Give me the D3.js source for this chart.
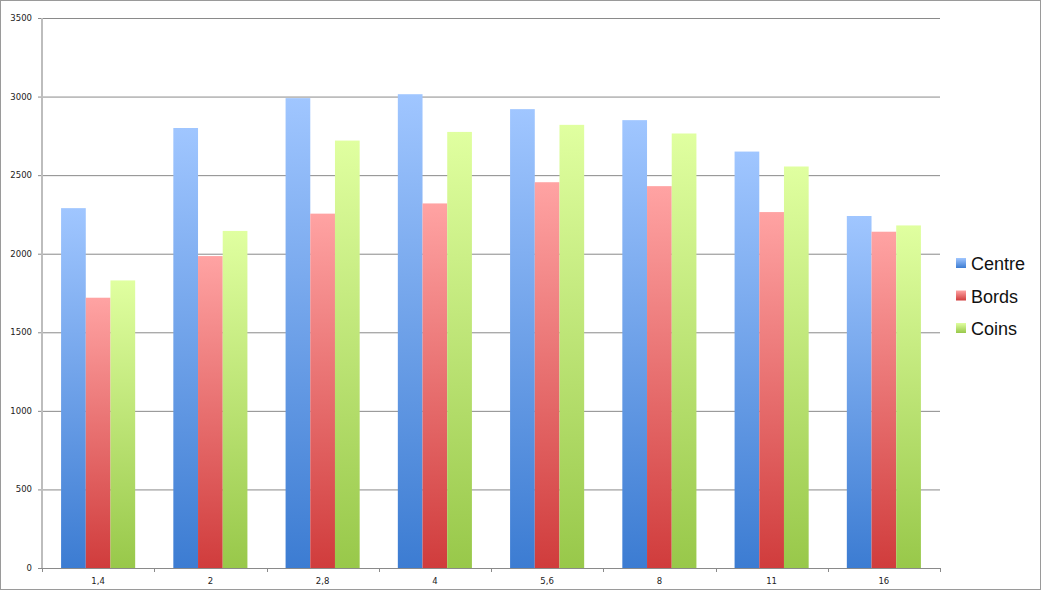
<!DOCTYPE html>
<html><head><meta charset="utf-8">
<script src="https://cdn.jsdelivr.net/npm/d3@7"></script>
<style>body{margin:0;background:#fff}svg{display:block}</style>
</head><body>
<svg id="c" width="1041" height="590"></svg>
<script>
const categories = ["1,4","2","2,8","4","5,6","8","11","16"];
const seriesNames = ["Centre","Bords","Coins"];
const centre = [2290,2800,2990,3015,2920,2850,2650,2240];
const bords  = [1720,1985,2255,2320,2455,2430,2265,2140];
const coins  = [1830,2145,2720,2775,2820,2765,2555,2180];
const yTicks = [0,500,1000,1500,2000,2500,3000,3500];

const values = [centre,bords,coins];
const gradients = [["#a0c6ff","#3c7cd2"],["#ffa3a3","#d03c3c"],["#e0ffa0","#98c84a"]];
const svg = d3.select("#c");
const W=1041,H=590;
const m={left:42,right:101,top:18,bottom:22};
svg.append("rect").attr("x",0.5).attr("y",0.5).attr("width",W-1).attr("height",H-1).attr("fill","#fff").attr("stroke","#9a9a9a");

const defs=svg.append("defs");
gradients.forEach((g,i)=>{
  const lg=defs.append("linearGradient").attr("id","g"+i).attr("x1",0).attr("y1",0).attr("x2",0).attr("y2",1);
  lg.append("stop").attr("offset","0%").attr("stop-color",g[0]);
  lg.append("stop").attr("offset","100%").attr("stop-color",g[1]);
});

const x=d3.scaleBand().domain(categories).range([m.left,W-m.right]).paddingInner(0.34).paddingOuter(0.17);
const x1=d3.scaleBand().domain(seriesNames).range([0,x.bandwidth()]);
const y=d3.scaleLinear().domain([0,3500]).range([H-m.bottom,m.top]);

// grid
svg.append("g").selectAll("line").data(yTicks.filter(d=>d>0)).join("line")
  .attr("x1",m.left-4).attr("x2",W-m.right).attr("y1",d=>y(d)+0.5).attr("y2",d=>y(d)+0.5)
  .attr("stroke","#8a8a8a").attr("stroke-width",1);
// y labels
svg.append("g").selectAll("text").data(yTicks).join("text")
  .attr("x",m.left-10).attr("y",d=>y(d)+3).attr("text-anchor","end")
  .attr("font-family","Verdana, DejaVu Sans, sans-serif").attr("font-size",8.5).attr("fill","#222").text(d=>d);

// bars
const grp=svg.append("g").selectAll("g").data(categories).join("g").attr("transform",c=>`translate(${x(c)},0)`);
grp.selectAll("rect").data((c,ci)=>seriesNames.map((s,si)=>({s,si,v:values[si][ci]}))).join("rect")
  .attr("x",d=>x1(d.s)).attr("width",x1.bandwidth()).attr("y",d=>y(d.v)).attr("height",d=>y(0)-y(d.v))
  .attr("fill",d=>`url(#g${d.si})`);

// y axis line
svg.append("line").attr("x1",m.left).attr("x2",m.left).attr("y1",m.top).attr("y2",H-m.bottom).attr("stroke","#bdbdbd").attr("stroke-width",2);
// x axis
svg.append("line").attr("x1",m.left-4).attr("x2",W-m.right).attr("y1",y(0)+0.5).attr("y2",y(0)+0.5).attr("stroke","#8a8a8a");
const step=x.step();
const bounds=d3.range(categories.length+1).map(i=>m.left+ i*(W-m.right-m.left)/categories.length);
svg.append("g").selectAll("line").data(bounds).join("line")
  .attr("x1",d=>Math.round(d)+0.5).attr("x2",d=>Math.round(d)+0.5).attr("y1",y(0)).attr("y2",y(0)+4).attr("stroke","#8a8a8a");
svg.append("g").selectAll("text").data(categories).join("text")
  .attr("x",c=>x(c)+x.bandwidth()/2).attr("y",H-6).attr("text-anchor","middle")
  .attr("font-family","Verdana, DejaVu Sans, sans-serif").attr("font-size",8.5).attr("fill","#222").text(c=>c);

// legend
const lg=svg.append("g").selectAll("g").data(seriesNames).join("g").attr("transform",(d,i)=>`translate(956,${258+i*32.5})`);
lg.append("rect").attr("width",10).attr("height",10).attr("fill",(d,i)=>`url(#g${i})`);
lg.append("text").attr("x",15).attr("y",12).attr("font-family","Liberation Sans, Arial, sans-serif").attr("font-size",18).attr("fill","#111").text(d=>d);
</script>
</body></html>
